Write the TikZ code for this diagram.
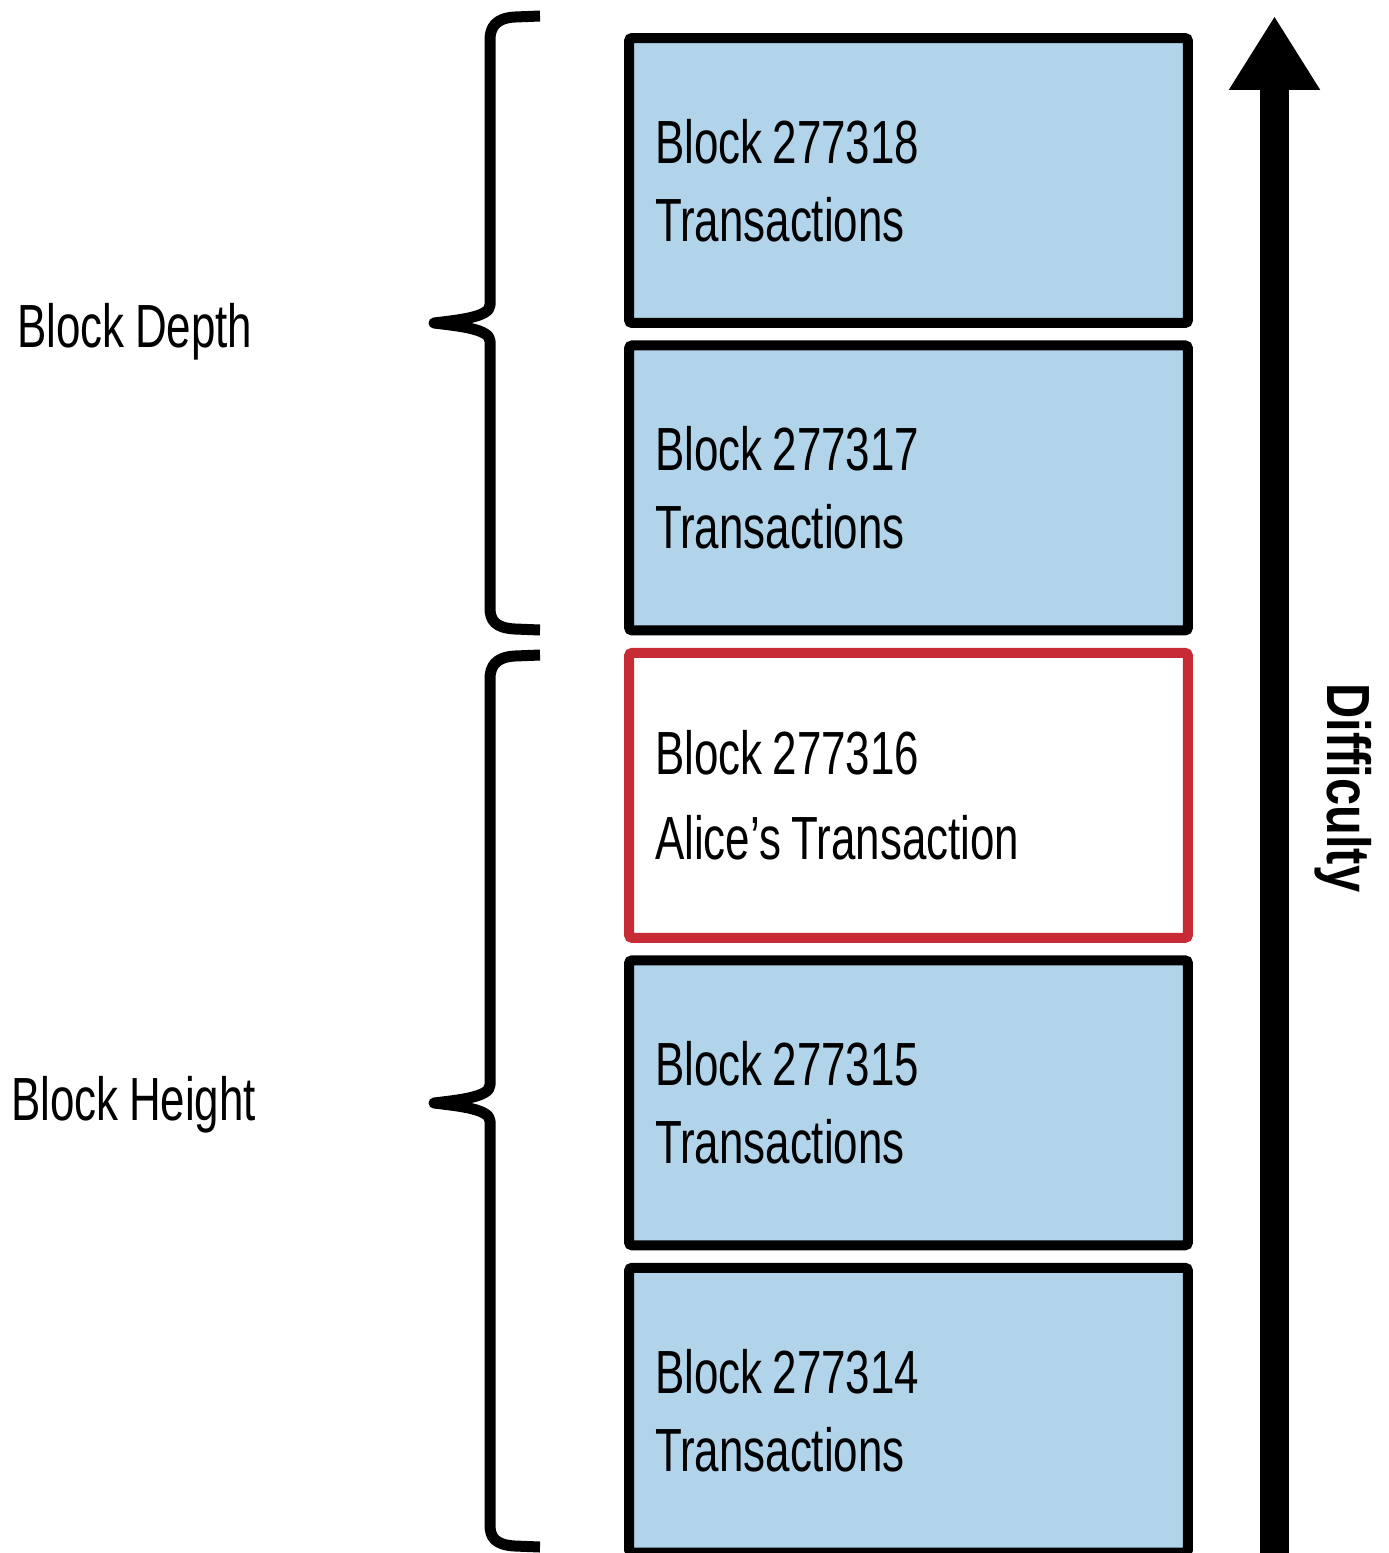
\documentclass[tikz,border=0pt]{standalone}
\usepackage{fontspec}
\setmainfont[FakeStretch=0.72,WordSpace=0.85]{Liberation Sans}
\newfontfamily\difffont[FakeStretch=0.8]{Liberation Sans}
\usetikzlibrary{positioning,arrows.meta}
\definecolor{blockblue}{HTML}{B2D4EA}
\definecolor{alicered}{HTML}{C62B36}
\newcommand{\blocksize}{\fontsize{34.7pt}{44.4pt}\selectfont}

\begin{document}
\begin{tikzpicture}[x=0.02cm,y=-0.02cm,
  blockbox/.style={draw=black,fill=blockblue,line width=0.2cm,rounded corners=0.06cm,
    minimum width=11.18cm,minimum height=5.7cm,text width=10.14cm,inner xsep=0.52cm,
    align=left,outer sep=0pt,font=\blocksize,execute at begin node={\spaceskip=0pt\relax}},
  alicebox/.style={blockbox,draw=alicered,fill=white},
  sidelabel/.style={font=\blocksize,anchor=base west,inner sep=0pt},
  bracket/.style={line width=0.22cm,line join=round}]
\useasboundingbox (0,0) rectangle (1389,1553);

% the chain, newest block on top
\node[blockbox] (b318) at (908.5,180.5) {Block 277318\\Transactions};
\node[blockbox,below=0.45cm of b318] (b317) {Block 277317\\Transactions};
\node[alicebox,below=0.45cm of b317] (b316) {Block 277316\\[0.14cm]Alice’s Transaction};
\node[blockbox,below=0.45cm of b316] (b315) {Block 277315\\Transactions};
\node[blockbox,below=0.45cm of b315] (b314) {Block 277314\\Transactions};

% braces
\coordinate (depthtop) at (540,16);
\coordinate (depthtip) at (434,323);
\coordinate (depthbot) at (540,630);
\coordinate (heighttop) at (540,655);
\coordinate (heighttip) at (434,1103);
\coordinate (heightbot) at (540,1547);
\draw[bracket] (depthtop) -- (515,17) .. controls +(-20,1) and +(0,-12) .. (490,40)
  -- (490,305) .. controls +(0,12) and +(25,-3) .. (depthtip)
  .. controls +(25,3) and +(0,-12) .. (490,341)
  -- (490,608) .. controls +(0,12) and +(-20,-1) .. (515,629) -- (depthbot);
\draw[bracket] (heighttop) -- (515,656) .. controls +(-20,1) and +(0,-12) .. (490,679)
  -- (490,1085) .. controls +(0,12) and +(25,-3) .. (heighttip)
  .. controls +(25,3) and +(0,-12) .. (490,1121)
  -- (490,1525) .. controls +(0,12) and +(-20,-1) .. (515,1546) -- (heightbot);
\node[sidelabel] (depth) at (17,347) {Block Depth};
\node[sidelabel] (height) at (11,1120) {Block Height};

% difficulty arrow
\coordinate (arrowfoot) at (1274.5,1560);
\coordinate (arrowtip) at (1274.5,16);
\draw[line width=0.58cm,-{Triangle[length=1.48cm,width=1.72cm]}] (arrowfoot) -- (arrowtip);
\node[font=\blocksize\difffont\bfseries,rotate=-90,anchor=base,inner sep=0pt] (difficulty) at (1327,788) {Difficulty};
\end{tikzpicture}
\end{document}
